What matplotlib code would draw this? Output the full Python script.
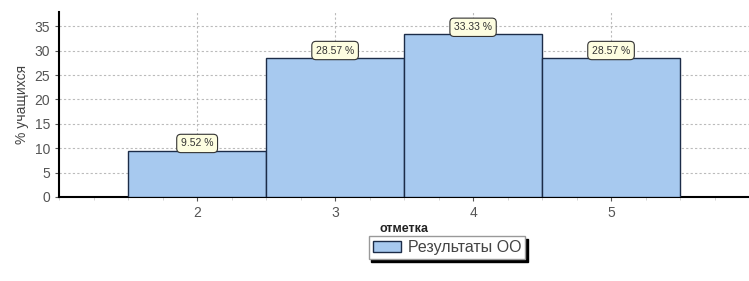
import numpy as np
import matplotlib
matplotlib.use('Agg')
import matplotlib.pyplot as plt
from matplotlib.ticker import MultipleLocator

plt.rcParams['font.family'] = ['Liberation Sans', 'DejaVu Sans']

grades = [2, 3, 4, 5]
percents = [9.52, 28.57, 33.33, 28.57]
labels = ['9.52 %', '28.57 %', '33.33 %', '28.57 %']
series_name = 'Результаты ОО'

fig = plt.figure(figsize=(7.49, 2.81), dpi=100)
ax = fig.add_axes([0.079, 0.299, 0.921, 0.658])

bars = ax.bar(grades, percents, width=1.0, color='#a7c9ef', edgecolor='#1c2c48',
              linewidth=1.0, label=series_name, zorder=3)

for g, p, t in zip(grades, percents, labels):
    ax.annotate(t, (g, p), xytext=(0, 1.5), textcoords='offset points',
                ha='center', va='bottom', fontsize=7.5, color='#333333', zorder=5,
                bbox=dict(boxstyle='round,pad=0.4', fc='#fdfde0', ec='#333333', lw=0.8))

ax.set_xlim(1, 6)
ax.set_ylim(0, 37.9)
ax.set_xticks(grades)
ax.yaxis.set_major_locator(MultipleLocator(5))
ax.xaxis.set_minor_locator(MultipleLocator(0.25))

ax.grid(True, which='major', linestyle=(0, (2, 2)), color='#bbbbbb', lw=0.8, zorder=0)

for s in ['top', 'right']:
    ax.spines[s].set_visible(False)
ax.spines['left'].set_linewidth(1.5)
ax.spines['bottom'].set_linewidth(1.5)

ax.tick_params(axis='both', labelsize=10, labelcolor='#555555', colors='#555555', length=3)
ax.tick_params(axis='x', which='minor', length=2, color='#cccccc')

ax.set_ylabel('% учащихся', fontsize=10, color='#444444', labelpad=4)
ax.set_xlabel('отметка', fontsize=9, fontweight='bold', color='#222222', labelpad=2)

leg = ax.legend(loc='center', bbox_to_anchor=(0.562, -0.275), fontsize=11.5,
                frameon=True, fancybox=False, shadow={'color': 'black', 'alpha': 1},
                handlelength=1.8, handleheight=0.7, handletextpad=0.4,
                borderpad=0.25, labelcolor='#444444')
leg.get_frame().set_edgecolor('#999999')

fig.savefig('out.png', dpi=100)
